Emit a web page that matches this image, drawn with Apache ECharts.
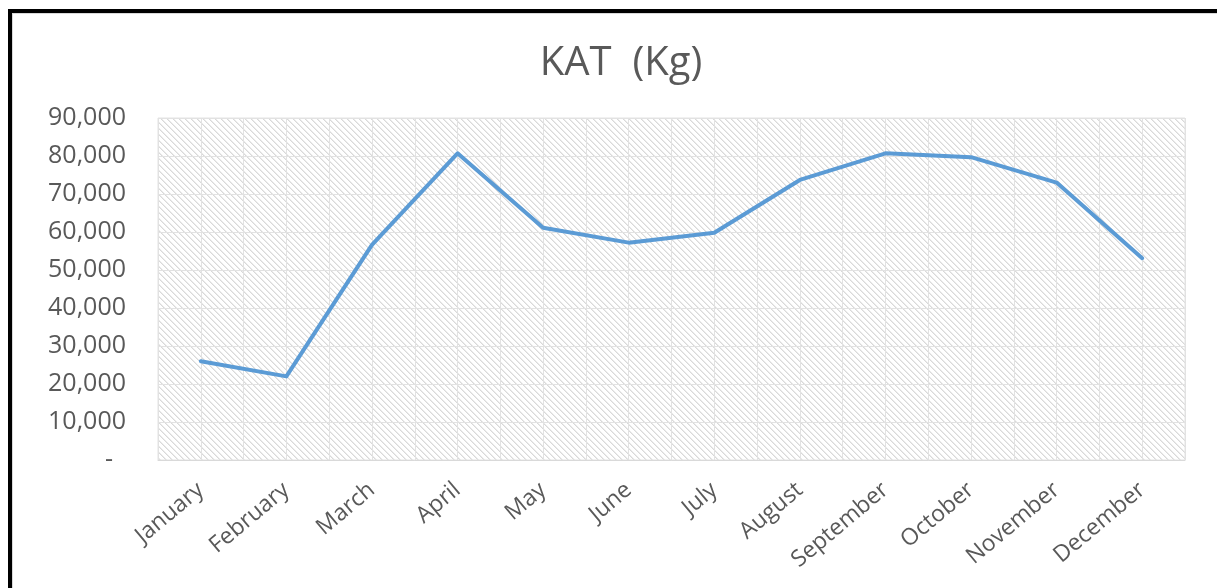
<!DOCTYPE html>
<html>
<head>
<meta charset="utf-8">
<script src="https://cdn.jsdelivr.net/npm/echarts@6/dist/echarts.min.js"></script>
<style>
  html, body { margin: 0; padding: 0; background: #fff; }
  #chart { position: absolute; left: 0; top: 0; width: 1217px; height: 588px; }
  #frameBlack { position: absolute; left: 8px; top: 9px; width: 1205px; height: 600px;
    border-left: 4px solid #000; border-top: 4px solid #000; pointer-events: none; }
  #frameGray { position: absolute; left: 12px; top: 13px; width: 1205px; height: 600px;
    border-left: 1px solid #d9d9d9; border-top: 1px solid #d9d9d9; pointer-events: none; }
</style>
</head>
<body>
<div id="chart"></div>
<div id="frameGray"></div>
<div id="frameBlack"></div>
<script>
const titleText = 'KAT  (Kg)';
const months = ['January', 'February', 'March', 'April', 'May', 'June', 'July',
  'August', 'September', 'October', 'November', 'December'];
const katValues = [26000, 22000, 56600, 80700, 61100, 57200, 59800, 73700, 80700, 79700, 73000, 53100];
const yTicks = { min: 0, max: 90000, interval: 10000 };

// half-category helper axis for the extra vertical gridlines
const halfCats = [];
months.forEach(m => { halfCats.push(m + '-a'); halfCats.push(m + '-b'); });

// hatch pattern for plot background
const P = 6;
const pat = document.createElement('canvas');
pat.width = P; pat.height = P;
const pc = pat.getContext('2d');
pc.fillStyle = '#ffffff';
pc.fillRect(0, 0, P, P);
for (let i = 0; i < P; i++) {
  pc.fillStyle = '#d9d9d9';
  pc.fillRect(i, i, 1, 1);
  pc.fillStyle = '#ebebeb';
  pc.fillRect((i + 1) % P, i, 1, 1);
}

const chart = echarts.init(document.getElementById('chart'), null, { renderer: 'canvas' });
chart.setOption({
  animation: false,
  backgroundColor: '#ffffff',
  title: {
    text: titleText,
    left: 616,
    textAlign: 'center',
    top: 39,
    textStyle: { fontFamily: 'Open Sans', fontSize: 40, fontWeight: 'normal', color: '#595959' }
  },
  grid: {
    left: 158, right: 32, top: 118, bottom: 128,
    show: true,
    backgroundColor: { image: pat, repeat: 'repeat' },
    borderColor: '#e2e2e2',
    borderWidth: 1
  },
  xAxis: [{
    type: 'category',
    data: months,
    boundaryGap: true,
    axisLine: { show: true, lineStyle: { color: '#d9d9d9', width: 1 } },
    axisTick: { show: false },
    splitLine: { show: false },
    axisLabel: {
      rotate: 40, interval: 0, margin: 27,
      fontFamily: 'Open Sans', fontSize: 23, color: '#595959'
    }
  }, {
    type: 'category',
    data: halfCats,
    position: 'bottom',
    boundaryGap: true,
    axisLine: { show: false },
    axisTick: { show: false },
    axisLabel: { show: false },
    splitLine: { show: true, interval: 0, lineStyle: { color: '#e2e2e2', width: 1 } }
  }],
  yAxis: {
    type: 'value',
    min: yTicks.min, max: yTicks.max, interval: yTicks.interval,
    axisLine: { show: false },
    axisTick: { show: false },
    splitLine: { show: true, lineStyle: { color: '#e2e2e2', width: 1 } },
    axisLabel: {
      margin: 32,
      fontFamily: 'Open Sans', fontSize: 25, color: '#595959',
      formatter: v => v === 0 ? '-  ' : v.toLocaleString('en-US')
    }
  },
  series: [{
    type: 'line',
    xAxisIndex: 0,
    data: katValues,
    symbol: 'none',
    smooth: false,
    lineStyle: { color: '#5b9bd5', width: 4, join: 'round', cap: 'round' },
    itemStyle: { color: '#5b9bd5' }
  }]
});
</script>
</body>
</html>
